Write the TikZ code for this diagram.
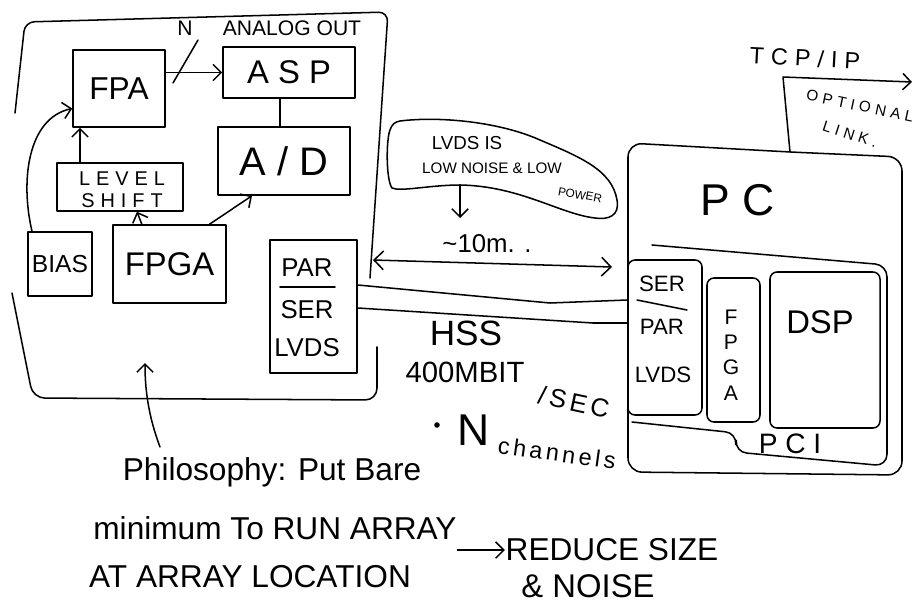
\documentclass[tikz,border=0pt]{standalone}
\usepackage{fontspec}
\setmainfont{Liberation Sans}
\newfontfamily\widefont[LetterSpace=30]{Liberation Sans}
\newfontfamily\midfont[LetterSpace=15]{Liberation Sans}
\usetikzlibrary{arrows.meta}
\newcommand{\fsz}[1]{\fontsize{#1}{#1}\selectfont}
\tikzset{
  box/.style={draw, inner sep=0pt},
  rbox/.style={draw, inner sep=0pt, rounded corners=6pt},
  txt/.style={inner sep=0pt},
  arr/.style={-{Straight Barb[length=7pt,width=14pt,line width=1.3pt]}},
  darr/.style={{Straight Barb[length=8pt,width=16pt,line width=1.3pt]}-{Straight Barb[length=8pt,width=16pt,line width=1.3pt]}}
}
\begin{document}
\begin{tikzpicture}[x=0.03cm,y=-0.03cm,line width=1.3pt,line cap=round,line join=round]
\useasboundingbox (0,0) rectangle (922,609);

% ---------- left enclosure ----------
\draw[rounded corners=8pt] (15,113) -- (25,22) -- (388,12) -- (370,278);
\draw[rounded corners=10pt] (377,347) -- (377,400) -- (33,398) -- (12,293);

% ---------- left blocks ----------
\node[box, minimum width=2.76cm, minimum height=2.31cm, font=\fsz{27}] (fpa) at (119,88.5) {FPA};
\node[box, minimum width=3.96cm, minimum height=1.53cm, font=\fsz{28}] (asp) at (289,72.5) {A S P};
\node[box, minimum width=3.96cm, minimum height=2.04cm, font=\fsz{34}] (ad) at (284,161) {A / D};
\node[box, minimum width=3.78cm, minimum height=1.44cm] (lev) at (120,187) {};
\node[txt, font=\widefont\fsz{17}] (levt) at (122,179) {LEVEL};
\node[txt, font=\widefont\fsz{17}] (shiftt) at (122,201) {SHIFT};
\node[box, minimum width=1.92cm, minimum height=1.92cm, font=\fsz{21}] (bias) at (60,264) {BIAS};
\node[box, minimum width=3.39cm, minimum height=2.34cm, font=\fsz{28}] (fpga) at (169.5,264) {FPGA};
\node[box, minimum width=2.61cm, minimum height=3.99cm] (par) at (313.5,306.5) {};
\node[txt, font=\fsz{22}] (part) at (307,268) {PAR};
\draw (280,287) -- (335,287);
\node[txt, font=\fsz{22}] (sert) at (307,310) {SER};
\node[txt, font=\fsz{22}] (lvdst) at (307,348) {LVDS};

\node[txt, font=\fsz{18}] (nlbl) at (185,28) {N};
\node[txt, font=\fsz{18}] (aout) at (292,28) {ANALOG OUT};

% left connectors
\draw[arr] (fpa.east |- asp.west) -- (asp.west);
\draw (173,83) -- (198,40);
\draw ([xshift=-0.27cm]asp.south) -- ([xshift=-0.12cm]ad.north);
\draw[arr] ([xshift=-1.2cm]lev.north) -- ([xshift=-1.17cm]fpa.south);
\draw[arr] ([xshift=-0.83cm]fpga.north) -- ([xshift=0.51cm]lev.south);
\draw[arr] ([xshift=1.2cm]fpga.north) -- ([xshift=-0.96cm]ad.south);
\draw[arr] ([xshift=-0.84cm]bias.north) .. controls (20,180) and (28,118) .. ([yshift=-0.6cm]fpa.west);

% ---------- cloud note ----------
\draw (400,121) .. controls (440,116) and (500,122) .. (540,140)
  .. controls (580,157) and (612,170) .. (617,200)
  .. controls (620,216) and (608,220) .. (595,218)
  .. controls (560,214) and (520,186) .. (460,185)
  .. controls (430,185) and (400,192) .. (392,188)
  .. controls (386,180) and (386,140) .. (390,130)
  .. controls (392,124) and (395,122) .. (400,121) -- cycle;
\node[txt, font=\fsz{16}] (c1) at (467,143) {LVDS IS};
\node[txt, font=\fsz{13}] (c2) at (492,168) {LOW NOISE \& LOW};
\node[txt, font=\fsz{10}, rotate=-10] (c3) at (580,195) {POWER};
\coordinate (cloudtail) at (460,185);
\coordinate (cloudhead) at (460,218);
\draw[arr] (cloudtail) -- (cloudhead);

% ---------- distance arrow ----------
\node[txt, font=\fsz{22}] (dist) at (487,244) {\textasciitilde 10m. .};
\coordinate (dl) at (373,260);
\coordinate (dr) at (612,267);
\draw[darr] (dl) -- (dr);

% ---------- PC ----------
\draw[rounded corners=12pt] (628,143) -- (790,152) -- (902,157) -- (902,475) -- (628,472) -- cycle;
\draw[rounded corners=10pt] (652,245) -- (887,265) -- (887,466) -- (735,452) -- (737,433) -- (632,422);
\node[txt, font=\fsz{38}] (pc) at (738,200) {P C};
\node[rbox, minimum width=2.22cm, minimum height=4.65cm] (ser) at (665,337.5) {};
\node[txt, font=\fsz{19}] (ser1) at (662,284) {SER};
\draw (637,300) -- (687,310);
\node[txt, font=\fsz{19}] (par1) at (662,327) {PAR};
\node[txt, font=\fsz{19}] (lvds1) at (663,375) {LVDS};
\node[rbox, minimum width=1.59cm, minimum height=4.32cm] (fpga2) at (733.5,350) {};
\node[txt, font=\fontsize{18}{21.5}\selectfont, align=center] (fpga2t) at (731,355) {F\\P\\G\\A};
\node[rbox, minimum width=3.3cm, minimum height=4.68cm] (dsp) at (825,350) {};
\node[txt, font=\fsz{28}] (dspt) at (820,322) {DSP};
\node[txt, font=\fsz{24}] (pci) at (790,444) {P C I};

% optional link
\coordinate (ol1) at (790,152);
\coordinate (ol2) at (783,77);
\coordinate (ol3) at (912,82);
\draw[arr] (ol1) -- (ol2) -- (ol3);
\node[txt, font=\widefont\fsz{20}, rotate=-3] (tcp) at (805,58) {TCP/IP};
\node[txt, font=\widefont\fsz{13}, rotate=-12] (opt) at (860,106) {OPTIONAL};
\node[txt, font=\widefont\fsz{13}, rotate=-18] (link) at (850,134) {LINK.};

% ---------- cable ----------
\draw ([yshift=0.645cm]par.east) -- (550,303) -- ([yshift=1.125cm]ser.west);
\draw ([yshift=-0.045cm]par.east) -- (593,323) -- ([yshift=0.435cm]ser.west);

\node[txt, font=\fsz{30}] (hss) at (466,333) {HSS};
\node[txt, font=\fsz{25}] (rate) at (465,372) {400MBIT};
\node[txt, font=\midfont\fsz{22}, rotate=-12] (sec) at (574,402) {/SEC};
\fill (437,425) circle (2.8);
\node[txt, font=\fsz{38}] (nch) at (474,430) {N};
\node[txt, font=\midfont\fsz{20}, rotate=-8] (chan) at (557,453) {channels};

% ---------- philosophy ----------
\node[txt, font=\fsz{27}] (phil) at (272,472) {Philosophy: Put Bare};
\node[txt, font=\fsz{27}] (run) at (275,528) {minimum To RUN ARRAY};
\node[txt, font=\fsz{27}] (loc) at (250,577) {AT ARRAY LOCATION};
\node[txt, font=\fsz{27}] (red) at (612,550) {REDUCE SIZE};
\node[txt, font=\fsz{28}] (noise) at (588,586) {\& NOISE};
\draw[arr] (run.east |- red.west) -- (red.west);
\coordinate (phtail) at (160,447);
\coordinate (phhead) at (145,363);
\draw[arr] (phtail) .. controls (150,420) and (145,395) .. (phhead);
\end{tikzpicture}
\end{document}
